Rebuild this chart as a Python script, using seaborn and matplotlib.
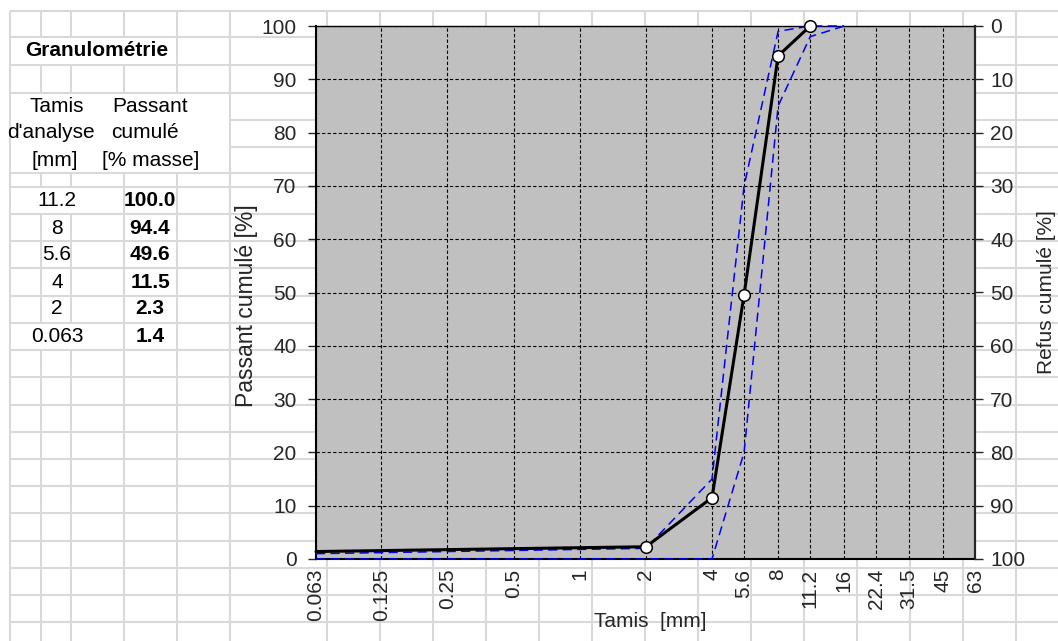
import matplotlib
matplotlib.use("Agg")
import matplotlib.pyplot as plt
import seaborn as sns
from matplotlib.patches import Rectangle

# Sieve analysis results
sieve_mm = [0.063, 2, 4, 5.6, 8, 11.2]
passing_pct = [1.4, 2.3, 11.5, 49.6, 94.4, 100.0]

# Grading envelope (upper / lower limits)
limit_sieve = [0.063, 2, 4, 5.6, 8, 11.2, 16]
upper_limit = [1, 2, 15, 70, 99, 100, 100]
lower_limit = [0, 0, 0, 20, 85, 98, 100]

tick_sieves = [0.063, 0.125, 0.25, 0.5, 1, 2, 4, 5.6, 8, 11.2, 16, 22.4, 31.5, 45, 63]
tick_labels = ["0.063", "0.125", "0.25", "0.5", "1", "2", "4", "5.6", "8",
               "11.2", "16", "22.4", "31.5", "45", "63"]
pct_ticks = list(range(0, 101, 10))

sns.set_style("white")
plt.rcParams["font.family"] = ["Liberation Sans", "DejaVu Sans"]

FS = 15
W, H = 1058, 641
fig = plt.figure(figsize=(W / 100, H / 100), dpi=100)

# ---- worksheet background -------------------------------------------------
bg = fig.add_axes([0, 0, 1, 1], zorder=0)
bg.set_xlim(0, W)
bg.set_ylim(H, 0)
bg.axis("off")

sheet_cols = [10, 41, 71, 124, 177, 230] + list(range(327, 1017, 53))
sheet_rows = [11, 37, 65, 93, 120, 147, 173, 187, 214, 241, 268, 296, 323,
              350, 377, 405, 432, 459, 486, 513, 541, 568, 595, 622]
grid_kw = dict(color="#d9d9d9", lw=1.5, zorder=1, solid_capstyle="butt")
for cx in sheet_cols:
    bg.plot([cx, cx], [sheet_rows[0], H], **grid_kw)
for ry in sheet_rows:
    bg.plot([sheet_cols[0], W], [ry, ry], **grid_kw)

# merged cells of the table
for (x0, y0, x1, y1) in [(10, 37, 177, 65), (10, 93, 230, 173),
                         (10, 187, 124, 214), (10, 323, 124, 350)]:
    bg.add_patch(Rectangle((x0 + 1.2, y0 + 1.2), x1 - x0 - 2.4, y1 - y0 - 2.4,
                           facecolor="white", edgecolor="none", zorder=2))

txt = dict(fontsize=FS, color="black", zorder=3, va="center")
bg.text(25, 51, "Granulométrie", ha="left", fontweight="bold", **txt)
bg.text(57, 107, "Tamis", ha="center", **txt)
bg.text(150, 107, "Passant", ha="center", **txt)
bg.text(51, 133, "d'analyse", ha="center", **txt)
bg.text(145, 133, "cumulé", ha="center", **txt)
bg.text(55, 160, "[mm]", ha="center", **txt)
bg.text(151, 160, "[% masse]", ha="center", **txt)

row_y = [201, 228, 255, 282, 309, 336]
for yy, s, p in zip(row_y, sieve_mm[::-1], passing_pct[::-1]):
    bg.text(57, yy, f"{s:g}", ha="center", **txt)
    bg.text(150, yy, f"{p:.1f}", ha="center", fontweight="bold", **txt)

# ---- grading chart --------------------------------------------------------
left, right, top, bottom = 316, 975, 26, 559
ax = fig.add_axes([left / W, 1 - bottom / H, (right - left) / W, (bottom - top) / H],
                  zorder=2)
ax.set_facecolor("#c0c0c0")
ax.set_xscale("log")

sns.lineplot(x=limit_sieve, y=upper_limit, ax=ax, color="#0000ff", linewidth=1.1,
             linestyle=(0, (6, 3.5)), clip_on=False, zorder=3, errorbar=None)
sns.lineplot(x=limit_sieve, y=lower_limit, ax=ax, color="#0000ff", linewidth=1.1,
             linestyle=(0, (6, 3.5)), clip_on=False, zorder=3, errorbar=None)
sns.lineplot(x=sieve_mm, y=passing_pct, ax=ax, color="black", linewidth=2.2,
             clip_on=False, zorder=4, errorbar=None)
sns.scatterplot(x=sieve_mm[1:], y=passing_pct[1:], ax=ax, s=70, color="white",
                edgecolor="black", linewidth=1.1, zorder=5, clip_on=False)

ax.set_xlim(tick_sieves[0], tick_sieves[-1])
ax.set_ylim(0, 100)
ax.set_xticks(tick_sieves)
ax.set_xticklabels(tick_labels)
ax.xaxis.set_minor_locator(matplotlib.ticker.NullLocator())
ax.set_yticks(pct_ticks)
ax.set_yticklabels([str(v) for v in pct_ticks])
ax.grid(True, which="major", color="black", linestyle=(0, (3, 2)), linewidth=0.8)
ax.set_axisbelow(True)

ax.tick_params(axis="x", length=0, pad=7, labelrotation=90, labelsize=FS)
ax.tick_params(axis="y", length=6, width=1, pad=8, direction="out", labelsize=FS,
               left=True)
for side in ["left", "bottom", "right"]:
    ax.spines[side].set_linewidth(1.5)
    ax.spines[side].set_color("black")
ax.spines["top"].set_linewidth(1.0)
ax.spines["top"].set_color("black")

ax.set_xlabel("Tamis  [mm]", fontsize=FS, va="center")
ax.xaxis.set_label_coords(0.507, -0.118)
ax.set_ylabel("Passant cumulé [%]", fontsize=16.5, va="center")
ax.yaxis.set_label_coords(-0.106, 0.475)

ax2 = ax.twinx()
ax2.set_ylim(100, 0)
ax2.set_yticks(pct_ticks)
ax2.set_yticklabels([str(v) for v in pct_ticks])
ax2.tick_params(axis="y", length=6, width=1, pad=5, direction="out", labelsize=FS,
                right=True)
ax2.patch.set_visible(False)
for side in ["left", "bottom", "top"]:
    ax2.spines[side].set_visible(False)
ax2.spines["right"].set_linewidth(1.5)
ax2.set_ylabel("Refus cumulé [%]", fontsize=FS, va="center", rotation=90)
ax2.yaxis.set_label_coords(1.108, 0.5)

fig.savefig("out.png", dpi=100)
